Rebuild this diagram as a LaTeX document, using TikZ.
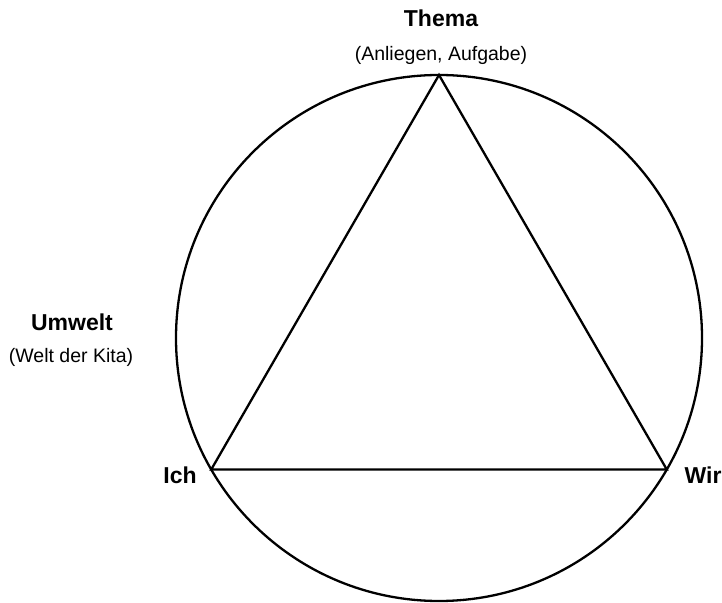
\documentclass[tikz,border=0pt]{standalone}
\usepackage{fontspec}
\setmainfont{Liberation Sans}
\usetikzlibrary{positioning,calc}
\definecolor{tzink}{HTML}{000000}
\tikzset{
  ringLine/.style={draw=tzink, line width=2.3pt},
  sideLine/.style={draw=tzink, line width=2.3pt, line join=miter},
  headLabel/.style={font=\bfseries\fontsize{23}{27}\selectfont, inner sep=0pt, text=tzink},
  subLabel/.style={font=\fontsize{19.5}{23}\selectfont, inner sep=0pt, text=tzink}
}
\begin{document}
\begin{tikzpicture}[x=1pt,y=1pt]
  \useasboundingbox (0,0) rectangle (722,602);
  \coordinate (mid) at (439,264);
  \draw[ringLine] (mid) circle (263);
  \coordinate (thema) at ($(mid)+(90:263)$);
  \coordinate (ich) at ($(mid)+(210:263)$);
  \coordinate (wir) at ($(mid)+(330:263)$);
  \draw[sideLine] (thema) -- (ich) -- (wir) -- cycle;
  \node[headLabel] (themaLab) at (441,584) {Thema};
  \node[subLabel] (themaSub) at (441,547) {(Anliegen, Aufgabe)};
  \node[headLabel] (umweltLab) at (72,280) {Umwelt};
  \node[subLabel] (umweltSub) at (71,245) {(Welt der Kita)};
  \node[headLabel] (ichLab) at (180,127) {Ich};
  \node[headLabel] (wirLab) at (703,127) {Wir};
\end{tikzpicture}
\end{document}
